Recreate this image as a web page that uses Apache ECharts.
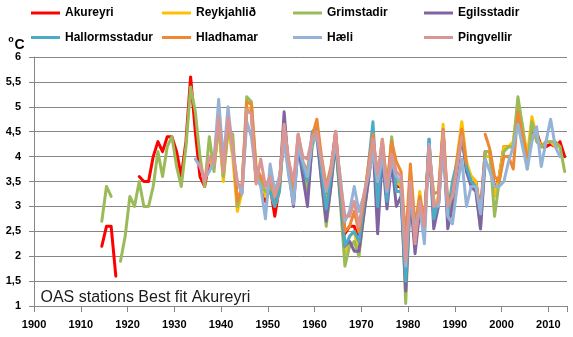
<!DOCTYPE html>
<html><head><meta charset="utf-8">
<script src="https://cdn.jsdelivr.net/npm/echarts@6/dist/echarts.min.js"></script>
<style>html,body{margin:0;padding:0;background:#fff}#c{width:573px;height:337px}</style>
</head><body><div id="c"></div>
<script>
const FIRST_YEAR = 1900, LAST_YEAR = 2013;
const yTicks = [1, 1.5, 2, 2.5, 3, 3.5, 4, 4.5, 5, 5.5, 6];
const stationNames = ['Akureyri','Reykjahlið','Grimstadir','Egilsstadir','Hallormsstadur','Hladhamar','Hæli','Pingvellir'];
const stationColors = ['#FF0000','#FFC000','#9BBB59','#8064A2','#4BACC6','#EE8833','#95B3D7','#D99694'];

const akureyriStart = 1914;
const akureyri = [2.2,2.6,2.6,1.6,null,null,null,null,3.6,3.5,3.5,4.0,4.3,4.1,4.4,4.4,4.1,3.6,4.3,5.6,
  4.5,3.6,3.4,3.9,3.8,4.7,3.6,4.7,4.2,3.0,
  3.3,4.9,4.9,3.5,3.6,3.1,3.4,2.8,3.4,4.5,
  3.7,3.2,4.3,3.8,3.35,4.4,4.5,3.9,3.1,3.7,
  4.5,3.4,2.45,2.6,2.6,2.3,3.0,3.7,4.3,3.3,
  4.2,3.3,4.1,3.4,3.4,1.7,3.3,2.5,3.1,2.7,
  4.2,3.0,3.1,4.5,2.9,3.3,3.9,4.6,3.8,3.6,
  3.5,2.9,4.1,4.1,3.3,3.6,4.2,4.2,4.2,5.0,
  4.5,4.0,4.55,4.5,4.2,4.2,4.25,4.2,4.3,4.0];

const reykjahlidStart = 1937;
const reykjahlid = [3.9,3.8,4.6,3.5,4.6,4.0,2.9,
  3.3,5.0,4.9,3.5,3.6,3.2,3.3,3.0,3.3,4.5,
  3.8,3.2,4.3,3.8,3.3,4.3,4.6,3.8,3.0,3.6,
  4.4,3.3,2.05,2.4,2.5,2.05,2.9,3.6,4.3,3.3,
  4.3,3.3,4.2,3.5,3.4,1.7,3.4,2.5,3.3,2.6,
  4.2,3.0,3.2,4.65,3.0,3.3,4.0,4.7,3.9,3.6,
  3.5,2.8,4.0,4.0,3.2,3.6,4.2,4.2,4.3,5.05,
  4.6,4.0,4.8,4.4,4.2,4.3,4.3,4.2,4.2];

const grimstadirStart = 1914;
const grimstadir = [2.7,3.4,3.2,null,1.9,2.4,3.2,3.0,3.5,3.0,3.0,3.4,4.1,3.6,4.2,4.4,3.8,3.4,4.2,5.4,
  4.9,4.0,3.4,4.4,3.7,4.7,3.6,4.5,4.45,3.0,
  3.4,5.2,5.1,3.7,3.5,3.3,3.4,3.1,3.4,4.7,
  3.8,3.3,4.3,3.7,3.2,4.2,4.5,3.5,2.6,3.4,
  4.3,3.1,1.8,2.2,2.3,2.0,2.8,3.5,4.2,3.1,
  4.2,3.3,4.4,3.5,3.5,1.05,3.3,2.4,3.0,2.6,
  4.2,2.8,3.0,4.5,2.8,3.2,3.8,4.5,3.7,3.5,
  3.4,2.55,4.1,4.1,2.8,3.5,4.1,4.2,4.2,5.2,
  4.6,3.75,4.7,4.3,4.2,4.3,4.3,4.3,4.2,3.7];

const egilsstadirStart = 1951;
const egilsstadir = [3.0,3.4,4.9,
  3.7,3.0,4.2,3.6,3.0,4.3,4.4,3.5,2.7,3.4,
  4.3,3.2,2.2,2.3,2.1,2.1,2.8,3.5,4.3,2.45,
  4.0,2.95,3.9,3.0,3.2,1.3,3.2,2.05,2.9,2.5,
  4.35,2.55,3.0,4.4,2.55,3.0,3.7,4.4,3.7,3.4,
  3.3,2.55,3.9];

const hallormsstadurStart = 1950;
const hallormsstadur = [3.3,3.0,3.3,4.6,
  3.7,3.1,4.3,3.8,3.5,4.5,4.6,3.7,2.95,3.6,
  4.3,3.3,2.2,2.4,2.5,2.3,3.0,3.8,4.7,3.0,
  4.2,3.1,4.3,3.3,3.3,1.5,3.3,2.4,3.05,2.6,
  4.35,2.75,3.1,4.5,2.85,3.5,3.9,4.5,3.8,3.5,
  3.4];

const hladhamarStart = 1937;
const hladhamar = [4.0,3.9,4.9,3.8,4.7,4.2,3.1,
  3.4,5.1,5.05,3.8,3.6,3.4,3.5,3.2,3.5,4.6,
  3.9,3.3,4.45,3.9,3.7,4.4,4.75,4.0,3.4,3.8,
  4.4,3.5,2.5,2.6,2.9,2.5,3.1,3.8,4.45,3.5,
  4.35,3.4,4.3,3.9,3.7,2.3,3.85,2.6,3.2,2.7,
  4.15,3.25,3.3,4.55,3.05,3.2,3.9,4.55,3.85,
  null,null,null,
  4.45,4.15,3.6,3.5,4.0,4.0,3.75,4.9,4.4,4.0];

const haeliStart = 1934;
const haeli = [3.95,3.8,3.55,3.7,3.9,5.15,3.9,5.0,4.1,3.5,
  3.25,4.7,4.4,3.6,3.4,2.75,3.85,3.3,3.6,4.3,
  3.6,3.05,4.2,3.9,3.6,4.3,4.4,3.9,3.3,3.7,
  4.3,3.6,2.7,2.9,3.4,2.9,3.2,3.6,4.1,3.5,
  4.0,3.3,3.9,3.6,3.5,1.8,3.3,2.5,3.0,2.25,
  4.25,3.1,3.0,4.25,2.8,2.65,3.4,3.95,3.0,3.4,
  3.4,2.85,3.95,3.7,3.4,3.4,3.5,3.9,4.2,4.65,
  4.2,3.75,4.3,4.6,3.8,4.3,4.75,4.2,4.0];

const pingvellirStart = 1935;
const pingvellir = [3.85,3.5,4.0,3.85,4.8,3.7,4.8,4.2,3.45,
  3.4,4.95,4.85,3.45,3.95,3.4,3.6,3.2,3.5,4.65,
  3.9,3.5,4.45,4.0,3.95,4.4,4.5,3.9,3.35,3.7,
  4.5,3.5,2.8,2.8,3.1,2.6,3.2,3.7,4.35,3.65,
  4.35,3.35,4.05,3.7,3.6,1.9,3.5,2.25,3.1,2.6,
  4.2,3.0,3.1,4.5,3.0,3.2,3.8,4.4];

const stationData = [
  [akureyriStart, akureyri], [reykjahlidStart, reykjahlid], [grimstadirStart, grimstadir],
  [egilsstadirStart, egilsstadir], [hallormsstadurStart, hallormsstadur], [hladhamarStart, hladhamar],
  [haeliStart, haeli], [pingvellirStart, pingvellir]
];

const years = [];
for (let y = FIRST_YEAR; y <= LAST_YEAR; y++) years.push(String(y));

function fullSeries(start, vals) {
  const out = years.map(() => null);
  vals.forEach((v, i) => { out[start - FIRST_YEAR + i] = v; });
  return out;
}

const FONT = '"Liberation Sans", Arial, sans-serif';
const series = stationNames.map((name, i) => ({
  name, type: 'line', data: fullSeries(stationData[i][0], stationData[i][1]),
  symbol: 'none', showSymbol: false, connectNulls: false,
  lineStyle: { width: 3, color: stationColors[i], join: 'round', cap: 'round' },
  itemStyle: { color: stationColors[i] },
  emphasis: { disabled: true }, animation: false
}));

const legendCols = [31, 162, 293, 424];
const legendRowsCenter = [13, 37.5];
const legends = stationNames.map((name, i) => ({
  data: [name], left: legendCols[i % 4], top: legendRowsCenter[Math.floor(i / 4)] - 7,
  padding: 0, itemWidth: 29, itemHeight: 3, icon: 'rect', selectedMode: false,
  textStyle: { fontFamily: FONT, fontWeight: 'bold', fontSize: 12, color: '#000', lineHeight: 14 }
}));

const chart = echarts.init(document.getElementById('c'), null, { renderer: 'canvas' });
chart.setOption({
  backgroundColor: '#fff',
  animation: false,
  color: stationColors,
  legend: legends,
  grid: { left: 34, right: 6, top: 57, bottom: 31, containLabel: false },
  xAxis: {
    type: 'category', data: years, boundaryGap: true,
    axisLine: { show: true, lineStyle: { color: '#868686', width: 1 } },
    axisTick: { show: true, length: 6, interval: (i) => i % 10 === 0, lineStyle: { color: '#868686' } },
    axisLabel: { interval: (i) => i % 10 === 0, fontFamily: FONT, fontWeight: 'bold', fontSize: 11,
      color: '#000', margin: 13, padding: [0, 4.6, 0, 0] },
    splitLine: { show: false }
  },
  yAxis: {
    type: 'value', min: yTicks[0], max: yTicks[yTicks.length - 1], interval: 0.5,
    axisLine: { show: true, lineStyle: { color: '#868686', width: 1 } },
    axisTick: { show: true, length: 5, lineStyle: { color: '#868686' } },
    splitLine: { show: true, lineStyle: { color: '#868686', width: 1 } },
    axisLabel: { formatter: (v) => String(v).replace('.', ','), fontFamily: FONT, fontWeight: 'bold',
      fontSize: 11, color: '#000', margin: 13 }
  },
  graphic: [
    { type: 'text', x: 8.3, y: 40, style: { text: 'o', font: 'bold 9px ' + FONT, fill: '#000', textAlign: 'left', textVerticalAlign: 'middle' } },
    { type: 'text', x: 14.5, y: 45.5, style: { text: 'C', font: 'bold 14px ' + FONT, fill: '#000', textAlign: 'left', textVerticalAlign: 'middle' } },
    { type: 'text', x: 40.5, y: 297.5, z: 100, style: { text: 'OAS stations Best fit Akureyri', font: '16px ' + FONT, fill: '#1a1a1a', textAlign: 'left', textVerticalAlign: 'middle' } }
  ],
  series
});
</script></body></html>
